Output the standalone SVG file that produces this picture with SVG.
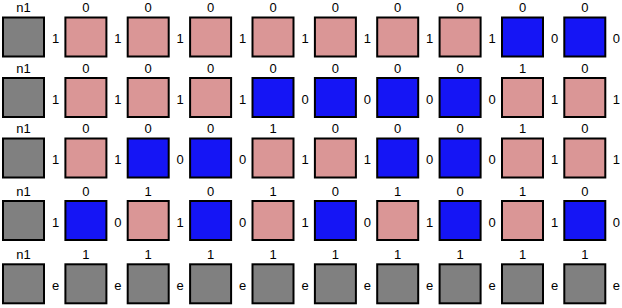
<svg xmlns="http://www.w3.org/2000/svg" width="622" height="308" viewBox="0 0 622 308">
<style>
.b{stroke:#000;stroke-width:2}
.g{fill:#808080}
.p{fill:#DA9696}
.u{fill:#1515F5}
text{font-family:"Liberation Sans",Arial,sans-serif;font-size:13px;fill:#000;text-anchor:middle}
</style>
<rect width="622" height="308" fill="#fff"/>
<g id="row0">
<g id="r0c0"><text x="23.5" y="12.3">n1</text><rect class="b g" x="3" y="17.5" width="41" height="39"/></g>
<g id="r0c1"><text x="85.9" y="12.3">0</text><rect class="b p" x="65.4" y="17.5" width="41" height="39"/></g>
<g id="r0c2"><text x="148.2" y="12.3">0</text><rect class="b p" x="127.7" y="17.5" width="41" height="39"/></g>
<g id="r0c3"><text x="210.6" y="12.3">0</text><rect class="b p" x="190.1" y="17.5" width="41" height="39"/></g>
<g id="r0c4"><text x="273" y="12.3">0</text><rect class="b p" x="252.5" y="17.5" width="41" height="39"/></g>
<g id="r0c5"><text x="335.4" y="12.3">0</text><rect class="b p" x="314.9" y="17.5" width="41" height="39"/></g>
<g id="r0c6"><text x="397.7" y="12.3">0</text><rect class="b p" x="377.2" y="17.5" width="41" height="39"/></g>
<g id="r0c7"><text x="460.1" y="12.3">0</text><rect class="b p" x="439.6" y="17.5" width="41" height="39"/></g>
<g id="r0c8"><text x="522.5" y="12.3">0</text><rect class="b u" x="502" y="17.5" width="41" height="39"/></g>
<g id="r0c9"><text x="584.8" y="12.3">0</text><rect class="b u" x="564.3" y="17.5" width="41" height="39"/></g>
</g>
<g id="row1">
<g id="r1c0"><text x="23.5" y="72.8">n1</text><rect class="b g" x="3" y="78" width="41" height="39"/></g>
<g id="r1c1"><text x="85.9" y="72.8">0</text><rect class="b p" x="65.4" y="78" width="41" height="39"/></g>
<g id="r1c2"><text x="148.2" y="72.8">0</text><rect class="b p" x="127.7" y="78" width="41" height="39"/></g>
<g id="r1c3"><text x="210.6" y="72.8">0</text><rect class="b p" x="190.1" y="78" width="41" height="39"/></g>
<g id="r1c4"><text x="273" y="72.8">0</text><rect class="b u" x="252.5" y="78" width="41" height="39"/></g>
<g id="r1c5"><text x="335.4" y="72.8">0</text><rect class="b u" x="314.9" y="78" width="41" height="39"/></g>
<g id="r1c6"><text x="397.7" y="72.8">0</text><rect class="b u" x="377.2" y="78" width="41" height="39"/></g>
<g id="r1c7"><text x="460.1" y="72.8">0</text><rect class="b u" x="439.6" y="78" width="41" height="39"/></g>
<g id="r1c8"><text x="522.5" y="72.8">1</text><rect class="b p" x="502" y="78" width="41" height="39"/></g>
<g id="r1c9"><text x="584.8" y="72.8">0</text><rect class="b p" x="564.3" y="78" width="41" height="39"/></g>
</g>
<g id="row2">
<g id="r2c0"><text x="23.5" y="133.3">n1</text><rect class="b g" x="3" y="138.5" width="41" height="39"/></g>
<g id="r2c1"><text x="85.9" y="133.3">0</text><rect class="b p" x="65.4" y="138.5" width="41" height="39"/></g>
<g id="r2c2"><text x="148.2" y="133.3">0</text><rect class="b u" x="127.7" y="138.5" width="41" height="39"/></g>
<g id="r2c3"><text x="210.6" y="133.3">0</text><rect class="b u" x="190.1" y="138.5" width="41" height="39"/></g>
<g id="r2c4"><text x="273" y="133.3">1</text><rect class="b p" x="252.5" y="138.5" width="41" height="39"/></g>
<g id="r2c5"><text x="335.4" y="133.3">0</text><rect class="b p" x="314.9" y="138.5" width="41" height="39"/></g>
<g id="r2c6"><text x="397.7" y="133.3">0</text><rect class="b u" x="377.2" y="138.5" width="41" height="39"/></g>
<g id="r2c7"><text x="460.1" y="133.3">0</text><rect class="b u" x="439.6" y="138.5" width="41" height="39"/></g>
<g id="r2c8"><text x="522.5" y="133.3">1</text><rect class="b p" x="502" y="138.5" width="41" height="39"/></g>
<g id="r2c9"><text x="584.8" y="133.3">0</text><rect class="b p" x="564.3" y="138.5" width="41" height="39"/></g>
</g>
<g id="row3">
<g id="r3c0"><text x="23.5" y="195.8">n1</text><rect class="b g" x="3" y="201" width="41" height="39"/></g>
<g id="r3c1"><text x="85.9" y="195.8">0</text><rect class="b u" x="65.4" y="201" width="41" height="39"/></g>
<g id="r3c2"><text x="148.2" y="195.8">1</text><rect class="b p" x="127.7" y="201" width="41" height="39"/></g>
<g id="r3c3"><text x="210.6" y="195.8">0</text><rect class="b u" x="190.1" y="201" width="41" height="39"/></g>
<g id="r3c4"><text x="273" y="195.8">1</text><rect class="b p" x="252.5" y="201" width="41" height="39"/></g>
<g id="r3c5"><text x="335.4" y="195.8">0</text><rect class="b u" x="314.9" y="201" width="41" height="39"/></g>
<g id="r3c6"><text x="397.7" y="195.8">1</text><rect class="b p" x="377.2" y="201" width="41" height="39"/></g>
<g id="r3c7"><text x="460.1" y="195.8">0</text><rect class="b u" x="439.6" y="201" width="41" height="39"/></g>
<g id="r3c8"><text x="522.5" y="195.8">1</text><rect class="b p" x="502" y="201" width="41" height="39"/></g>
<g id="r3c9"><text x="584.8" y="195.8">0</text><rect class="b u" x="564.3" y="201" width="41" height="39"/></g>
</g>
<g id="row4">
<g id="r4c0"><text x="23.5" y="259.3">n1</text><rect class="b g" x="3" y="264.3" width="41" height="39"/></g>
<g id="r4c1"><text x="85.9" y="259.3">1</text><rect class="b g" x="65.4" y="264.3" width="41" height="39"/></g>
<g id="r4c2"><text x="148.2" y="259.3">1</text><rect class="b g" x="127.7" y="264.3" width="41" height="39"/></g>
<g id="r4c3"><text x="210.6" y="259.3">1</text><rect class="b g" x="190.1" y="264.3" width="41" height="39"/></g>
<g id="r4c4"><text x="273" y="259.3">1</text><rect class="b g" x="252.5" y="264.3" width="41" height="39"/></g>
<g id="r4c5"><text x="335.4" y="259.3">1</text><rect class="b g" x="314.9" y="264.3" width="41" height="39"/></g>
<g id="r4c6"><text x="397.7" y="259.3">1</text><rect class="b g" x="377.2" y="264.3" width="41" height="39"/></g>
<g id="r4c7"><text x="460.1" y="259.3">1</text><rect class="b g" x="439.6" y="264.3" width="41" height="39"/></g>
<g id="r4c8"><text x="522.5" y="259.3">1</text><rect class="b g" x="502" y="264.3" width="41" height="39"/></g>
<g id="r4c9"><text x="584.8" y="259.3">1</text><rect class="b g" x="564.3" y="264.3" width="41" height="39"/></g>
</g>
<g id="connectors">
<g id="labels-row0">
<text x="55.5" y="43.3">1</text><text x="117.9" y="43.3">1</text><text x="180.2" y="43.3">1</text><text x="242.6" y="43.3">1</text><text x="305" y="43.3">1</text><text x="367.4" y="43.3">1</text><text x="429.7" y="43.3">1</text><text x="492.1" y="43.3">1</text><text x="554.5" y="43.3">0</text><text x="616.3" y="43.3">0</text>
</g>
<g id="labels-row1">
<text x="55.5" y="103.8">1</text><text x="117.9" y="103.8">1</text><text x="180.2" y="103.8">1</text><text x="242.6" y="103.8">1</text><text x="305" y="103.8">0</text><text x="367.4" y="103.8">0</text><text x="429.7" y="103.8">0</text><text x="492.1" y="103.8">0</text><text x="554.5" y="103.8">1</text><text x="616.3" y="103.8">1</text>
</g>
<g id="labels-row2">
<text x="55.5" y="164.3">1</text><text x="117.9" y="164.3">1</text><text x="180.2" y="164.3">0</text><text x="242.6" y="164.3">0</text><text x="305" y="164.3">1</text><text x="367.4" y="164.3">1</text><text x="429.7" y="164.3">0</text><text x="492.1" y="164.3">0</text><text x="554.5" y="164.3">1</text><text x="616.3" y="164.3">1</text>
</g>
<g id="labels-row3">
<text x="55.5" y="226.8">1</text><text x="117.9" y="226.8">0</text><text x="180.2" y="226.8">1</text><text x="242.6" y="226.8">0</text><text x="305" y="226.8">1</text><text x="367.4" y="226.8">0</text><text x="429.7" y="226.8">1</text><text x="492.1" y="226.8">0</text><text x="554.5" y="226.8">1</text><text x="616.3" y="226.8">0</text>
</g>
<g id="labels-row4">
<text x="55.5" y="289.8">e</text><text x="117.9" y="289.8">e</text><text x="180.2" y="289.8">e</text><text x="242.6" y="289.8">e</text><text x="305" y="289.8">e</text><text x="367.4" y="289.8">e</text><text x="429.7" y="289.8">e</text><text x="492.1" y="289.8">e</text><text x="554.5" y="289.8">e</text><text x="616.3" y="289.8">e</text>
</g>
</g>
</svg>
